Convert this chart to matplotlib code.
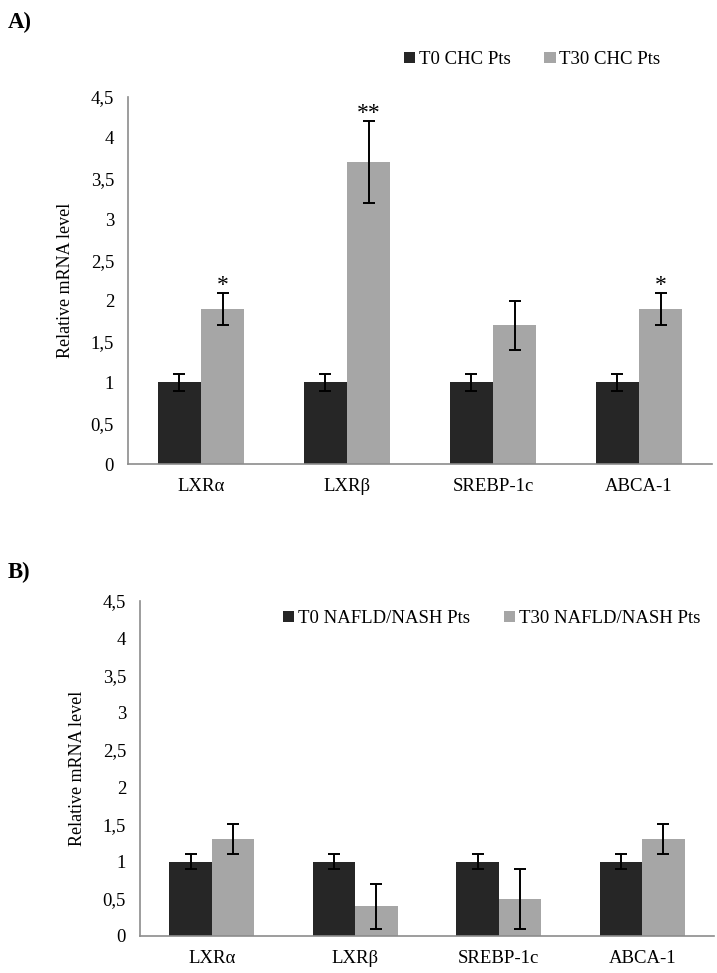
import numpy as np
import matplotlib.pyplot as plt

plt.rcParams['font.family'] = ['Liberation Serif', 'DejaVu Serif']

genes = ["LXRα", "LXRβ", "SREBP-1c", "ABCA-1"]
yticks = [0, 0.5, 1, 1.5, 2, 2.5, 3, 3.5, 4, 4.5]
ytick_labels = ["0", "0,5", "1", "1,5", "2", "2,5", "3", "3,5", "4", "4,5"]

# panel A: CHC patients
a_t0 = [1, 1, 1, 1]
a_t0_err = [0.1, 0.1, 0.1, 0.1]
a_t30 = [1.9, 3.7, 1.7, 1.9]
a_t30_err = [0.2, 0.5, 0.3, 0.2]
a_stars = ["*", "**", "", "*"]

# panel B: NAFLD/NASH patients
b_t0 = [1, 1, 1, 1]
b_t0_err = [0.1, 0.1, 0.1, 0.1]
b_t30 = [1.3, 0.4, 0.5, 1.3]
b_t30_err = [0.2, 0.3, 0.4, 0.2]
b_stars = ["", "", "", ""]

dark = "#262626"
light = "#a6a6a6"

W, H = 717, 973
fig = plt.figure(figsize=(W / 100, H / 100), dpi=100)


def panel(rect, t0, t0e, t30, t30e, stars, labels, legend_loc):
    l, t, r, b = rect
    ax = fig.add_axes([l / W, 1 - b / H, (r - l) / W, (b - t) / H])
    x = np.arange(len(genes))
    w = 0.295
    ax.bar(x - w / 2, t0, w, color=dark, label=labels[0])
    ax.bar(x + w / 2, t30, w, color=light, label=labels[1])
    ekw = dict(fmt="none", ecolor="black", elinewidth=1.4, capsize=4.5, capthick=1.4)
    ax.errorbar(x - w / 2, t0, yerr=t0e, **ekw)
    ax.errorbar(x + w / 2, t30, yerr=t30e, **ekw)
    for i, s in enumerate(stars):
        if s:
            ax.annotate(s, (x[i] + w / 2, t30[i] + t30e[i]), xytext=(0, -2),
                        textcoords="offset points", ha="center", va="bottom",
                        fontsize=17)
    ax.set_xlim(-0.5, len(genes) - 0.5)
    ax.set_ylim(0, 4.5)
    ax.set_yticks(yticks)
    ax.set_yticklabels(ytick_labels)
    ax.set_xticks(x)
    ax.set_xticklabels(genes)
    ax.tick_params(length=0, labelsize=13.5)
    ax.tick_params(axis="y", pad=10)
    ax.tick_params(axis="x", pad=10)
    for sp in ["top", "right"]:
        ax.spines[sp].set_visible(False)
    for sp in ["left", "bottom"]:
        ax.spines[sp].set_color("#8c8c8c")
        ax.spines[sp].set_linewidth(1.2)
    ax.set_ylabel("Relative mRNA level", fontsize=13, labelpad=12)
    ax.legend(loc="lower left", bbox_to_anchor=legend_loc, ncol=2, frameon=False,
              fontsize=13.5, handlelength=0.6, handleheight=0.6, handletextpad=0.2,
              columnspacing=1.8, bbox_transform=fig.transFigure)
    return ax


panel((128, 97, 712, 464), a_t0, a_t0_err, a_t30, a_t30_err, a_stars,
      ["T0 CHC Pts", "T30 CHC Pts"], (387 / W, 1 - 85 / H))
panel((140, 601, 714, 936), b_t0, b_t0_err, b_t30, b_t30_err, b_stars,
      ["T0 NAFLD/NASH Pts", "T30 NAFLD/NASH Pts"], (266 / W, 1 - 644 / H))

fig.text(8 / W, 1 - 22 / H, "A)", fontsize=16.5, fontweight="bold", va="center")
fig.text(8 / W, 1 - 572 / H, "B)", fontsize=16.5, fontweight="bold", va="center")

fig.savefig("out.png", dpi=100)
